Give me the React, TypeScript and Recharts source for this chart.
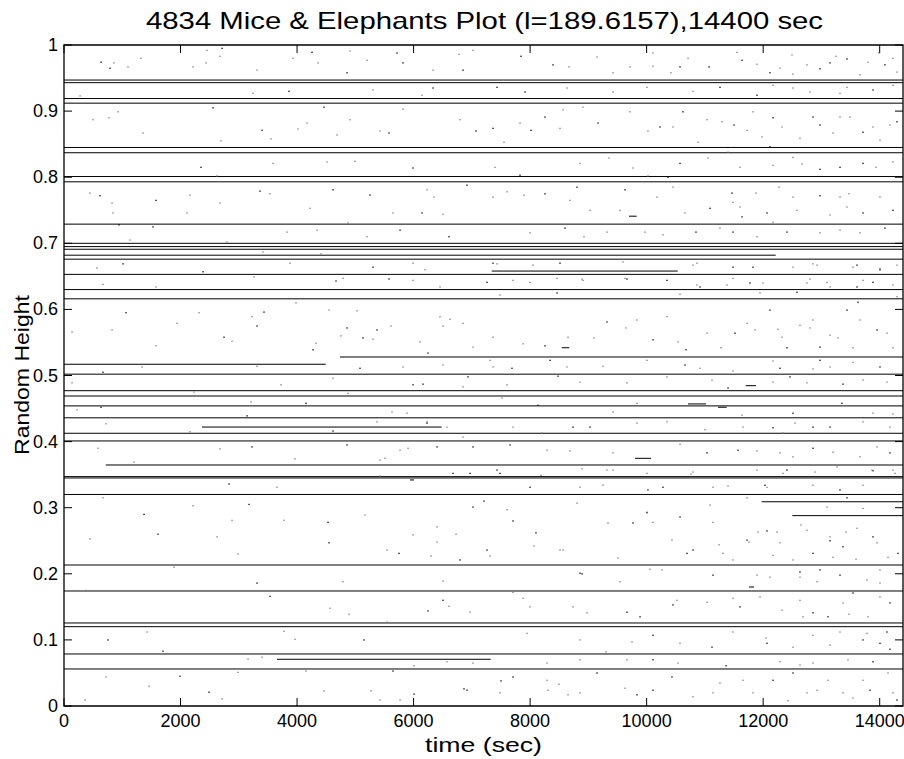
import React from 'react';
import { ScatterChart, Scatter, XAxis, YAxis, ReferenceLine, ReferenceArea } from 'recharts';

const xTicks = [0, 2000, 4000, 6000, 8000, 10000, 12000, 14000];
const yTicks = [0, 0.1, 0.2, 0.3, 0.4, 0.5, 0.6, 0.7, 0.8, 0.9, 1];

// elephants: [start sec, end sec, height]
const elephants = [
  [0, 14400, 0.947], [0, 14400, 0.943], [0, 14400, 0.919], [0, 14400, 0.912],
  [0, 14400, 0.845], [0, 14400, 0.837], [0, 14400, 0.801], [0, 14400, 0.793],
  [0, 14400, 0.729], [0, 14400, 0.7], [0, 14400, 0.695], [0, 14400, 0.691],
  [0, 12215, 0.682], [0, 14400, 0.676], [7341, 10533, 0.658], [0, 14400, 0.653],
  [0, 14400, 0.63], [0, 14400, 0.616], [4737, 14400, 0.528], [0, 4492, 0.517],
  [0, 14400, 0.502], [0, 14400, 0.477], [0, 14400, 0.469], [0, 14400, 0.454],
  [0, 14400, 0.436], [2368, 6482, 0.422], [0, 14400, 0.4126], [0, 14400, 0.401],
  [716, 14400, 0.3646], [0, 14400, 0.347], [0, 14400, 0.345], [0, 14400, 0.32],
  [11975, 14400, 0.309], [12500, 14400, 0.288], [0, 14400, 0.2133], [0, 14400, 0.174],
  [0, 14400, 0.1256], [0, 14400, 0.12], [0, 14400, 0.0787], [3656, 7324, 0.0707],
  [0, 14400, 0.056],
  [9697, 9829, 0.741], [8543, 8673, 0.542], [11700, 11877, 0.4846], [10710, 11019, 0.457],
  [11225, 11374, 0.452], [9800, 10075, 0.3747], [11757, 11843, 0.18], [5938, 6007, 0.342],
];

// mice: [sec, height]
const mice = [
  [635, 0.974], [858, 0.973], [1321, 0.98], [789, 0.965], [1098, 0.967], [3312, 0.962], [2712, 0.995], [2677, 0.983],
  [2437, 0.973], [4256, 0.989], [4359, 0.973], [5200, 0.977], [5818, 0.973], [6333, 0.962], [6779, 0.986], [6848, 0.962],
  [6144, 0.924], [3244, 0.927], [3861, 0.93], [927, 0.899], [772, 0.89], [4462, 0.906], [5818, 0.903], [4170, 0.882],
  [3398, 0.871], [3552, 0.858], [5423, 0.87], [5578, 0.867], [4016, 0.873], [4685, 0.864], [7071, 0.87], [2694, 0.855],
  [1356, 0.867], [618, 0.772], [446, 0.776], [824, 0.761], [1579, 0.765], [2162, 0.773], [2677, 0.761], [3364, 0.779],
  [3535, 0.775], [4222, 0.753], [5251, 0.773], [6350, 0.77], [6504, 0.744], [6144, 0.746], [4874, 0.731], [2626, 0.802],
  [2351, 0.815], [4513, 0.823], [4994, 0.824], [5990, 0.814], [3587, 0.821], [1133, 0.705], [944, 0.728], [3415, 0.687],
  [4410, 0.684], [1012, 0.669], [566, 0.663], [6196, 0.66], [5303, 0.664], [3827, 0.717], [5200, 0.71], [6607, 0.71],
  [1579, 0.634], [669, 0.638], [4668, 0.643], [6453, 0.634], [3261, 0.649], [5578, 0.646],
  [2454, 0.992], [4909, 0.991], [5715, 0.988], [7019, 0.992], [3930, 0.98], [4857, 0.958], [2214, 0.967], [5303, 0.932],
  [6333, 0.935], [275, 0.923], [6796, 0.887], [2557, 0.905], [498, 0.887], [4909, 0.887], [6916, 0.788], [6230, 0.781],
  [5646, 0.746], [4616, 0.781], [2111, 0.746], [841, 0.746], [5767, 0.72], [4342, 0.72], [2797, 0.702], [1527, 0.725],
  [3879, 0.67], [5990, 0.67], [2386, 0.657], [4788, 0.647], [5990, 0.644],
  [7843, 0.983], [9422, 0.958], [11550, 0.989], [11636, 0.977], [11893, 0.971], [13249, 0.983], [13438, 0.979], [14227, 0.98],
  [13987, 0.988], [12975, 0.964], [12494, 0.985], [10710, 0.98], [11070, 0.967], [8667, 0.967], [13798, 0.974], [14089, 0.97],
  [10417, 0.958], [10108, 0.968], [12116, 0.958], [12511, 0.956], [9147, 0.982], [7912, 0.929], [9422, 0.929], [10795, 0.93],
  [11893, 0.924], [12511, 0.935], [13318, 0.927], [13884, 0.932], [14227, 0.939], [12803, 0.929], [8015, 0.871], [7826, 0.882],
  [7551, 0.853], [8255, 0.891], [8512, 0.874], [8907, 0.906], [9165, 0.882], [10022, 0.87], [10451, 0.876], [10623, 0.899],
  [10881, 0.853], [11293, 0.884], [11499, 0.879], [11722, 0.871], [11979, 0.861], [12168, 0.89], [12322, 0.876], [12631, 0.859],
  [12975, 0.879], [13198, 0.867], [13490, 0.891], [13713, 0.868], [14004, 0.856], [14175, 0.879], [12116, 0.846], [11396, 0.838],
  [7397, 0.815], [7826, 0.803], [9353, 0.829], [10022, 0.802], [10366, 0.8], [11053, 0.829], [12666, 0.82], [12975, 0.812],
  [13936, 0.815], [12511, 0.83], [13713, 0.821], [7603, 0.778], [7895, 0.773], [8255, 0.775], [8684, 0.765], [9027, 0.75],
  [9628, 0.781], [10451, 0.785], [10658, 0.746], [11465, 0.776], [11602, 0.755], [11876, 0.776], [12065, 0.746], [12271, 0.785],
  [12511, 0.77], [12975, 0.772], [13318, 0.77], [13472, 0.775], [13713, 0.746], [14004, 0.77], [13147, 0.743], [11636, 0.74],
  [11482, 0.762], [12168, 0.732], [8598, 0.723], [9319, 0.717], [9971, 0.717], [10846, 0.717], [11258, 0.723], [11893, 0.71],
  [12408, 0.717], [12975, 0.716], [13661, 0.716], [14089, 0.723], [8924, 0.71], [7431, 0.669], [8512, 0.67], [9594, 0.672],
  [10863, 0.67], [11825, 0.664], [12854, 0.669], [13541, 0.664], [14004, 0.66], [8461, 0.647], [9628, 0.647], [10915, 0.634],
  [11996, 0.64], [12803, 0.646], [13884, 0.641], [8890, 0.646], [13147, 0.634],
  [8392, 0.97], [9714, 0.967], [10108, 0.988], [10572, 0.967], [12288, 0.965], [12751, 0.97], [13147, 0.973], [13661, 0.955],
  [14296, 0.959], [7431, 0.936], [8633, 0.935], [10005, 0.936], [11258, 0.936], [12168, 0.939], [13438, 0.936], [7362, 0.874],
  [8564, 0.902], [9714, 0.899], [10229, 0.876], [11036, 0.887], [11825, 0.899], [12854, 0.891], [13318, 0.891], [13884, 0.876],
  [14296, 0.884], [8856, 0.821], [9765, 0.814], [10572, 0.821], [11602, 0.815], [12168, 0.818], [13318, 0.815], [14227, 0.823],
  [7362, 0.77], [8804, 0.785], [9542, 0.75], [10177, 0.77], [11087, 0.753], [12580, 0.75], [13438, 0.755], [14227, 0.75],
  [7998, 0.716], [10280, 0.713], [11482, 0.717], [13318, 0.72], [7706, 0.644], [10349, 0.644], [11482, 0.647], [13713, 0.644],
  [1064, 0.595], [1579, 0.545], [2317, 0.595], [3432, 0.596], [4548, 0.599], [5028, 0.598], [5371, 0.569], [5612, 0.575],
  [4754, 0.56], [6247, 0.534], [7019, 0.543], [6453, 0.589], [5131, 0.557], [3981, 0.61], [2883, 0.552], [3312, 0.575],
  [137, 0.566], [824, 0.569], [2746, 0.558], [4325, 0.549], [6848, 0.579], [669, 0.505], [1339, 0.513], [3312, 0.514],
  [6161, 0.487], [3724, 0.486], [137, 0.489], [6933, 0.498], [2231, 0.475], [4874, 0.473], [635, 0.452], [223, 0.448],
  [3209, 0.46], [4153, 0.458], [5629, 0.445], [5887, 0.443], [3141, 0.439], [721, 0.427], [2162, 0.415], [4616, 0.416],
  [6230, 0.43], [6848, 0.407], [3226, 0.392], [3964, 0.374], [1201, 0.369], [4857, 0.395], [5509, 0.375], [5904, 0.39],
  [7019, 0.392], [583, 0.39], [2677, 0.389], [2832, 0.336], [5423, 0.348], [3655, 0.331], [6676, 0.352],
  [6625, 0.585], [6110, 0.551], [4857, 0.572], [5303, 0.555], [6504, 0.575], [4273, 0.539], [1939, 0.579], [3226, 0.589],
  [5080, 0.511], [5818, 0.513], [6504, 0.516], [5990, 0.486], [6848, 0.483], [4616, 0.496], [6230, 0.428], [6573, 0.422],
  [5371, 0.43], [6402, 0.392], [5767, 0.387], [5423, 0.372], [6968, 0.352],
  [7362, 0.558], [7877, 0.548], [8255, 0.545], [8650, 0.558], [9096, 0.557], [9319, 0.581], [9645, 0.572], [9834, 0.584],
  [10108, 0.554], [10349, 0.589], [10538, 0.551], [10675, 0.539], [11036, 0.564], [11276, 0.542], [11516, 0.564], [11722, 0.579],
  [11859, 0.569], [12116, 0.599], [12254, 0.57], [12322, 0.558], [12408, 0.542], [12631, 0.576], [12803, 0.572], [12975, 0.543],
  [13147, 0.561], [13284, 0.557], [13438, 0.599], [13541, 0.542], [13661, 0.584], [13953, 0.569], [14124, 0.564], [14227, 0.542],
  [13627, 0.611], [12854, 0.584], [7362, 0.513], [7688, 0.511], [8632, 0.513], [9250, 0.514], [10658, 0.516], [10915, 0.511],
  [11482, 0.507], [12288, 0.511], [12854, 0.51], [13147, 0.513], [14004, 0.513], [13541, 0.52], [7603, 0.486], [8478, 0.499],
  [9662, 0.489], [11121, 0.493], [11396, 0.481], [12168, 0.49], [12751, 0.489], [13370, 0.487], [14124, 0.49], [7517, 0.466],
  [8135, 0.455], [9834, 0.458], [11636, 0.44], [13352, 0.458], [13884, 0.443], [14227, 0.442], [12511, 0.443], [9422, 0.445],
  [8203, 0.413], [8735, 0.422], [9834, 0.428], [11001, 0.418], [12168, 0.421], [12339, 0.413], [12545, 0.428], [12854, 0.422],
  [13713, 0.43], [14175, 0.422], [7654, 0.395], [8684, 0.386], [10572, 0.396], [11568, 0.387], [11893, 0.386], [12511, 0.377],
  [12854, 0.39], [13198, 0.384], [13661, 0.377], [14175, 0.383], [8890, 0.359], [11893, 0.357], [13884, 0.356], [13267, 0.362],
  [10005, 0.352], [7998, 0.331], [11138, 0.331], [12854, 0.334],
  [7362, 0.67], [8049, 0.667], [10795, 0.667], [11482, 0.664], [12511, 0.664], [12923, 0.667], [13610, 0.667], [14004, 0.662],
  [14296, 0.667], [7260, 0.641], [7998, 0.641], [8907, 0.644], [9662, 0.646], [10863, 0.637], [11379, 0.637], [11773, 0.64],
  [12751, 0.64], [13095, 0.641], [13610, 0.634], [14227, 0.637], [7483, 0.622], [8461, 0.625], [10572, 0.623], [11945, 0.625],
  [12580, 0.626], [14296, 0.619], [7311, 0.523], [8341, 0.523], [10005, 0.523], [12168, 0.522], [12975, 0.523], [8856, 0.49],
  [10349, 0.498], [12460, 0.498], [13713, 0.493], [7706, 0.422], [9027, 0.422], [10349, 0.43], [11653, 0.422], [13147, 0.422],
  [8290, 0.387], [9422, 0.383], [11036, 0.383], [12288, 0.383], [13953, 0.392], [7431, 0.357], [9422, 0.357], [10795, 0.354],
  [12408, 0.357], [14227, 0.357], [8856, 0.331], [10280, 0.331], [12065, 0.331], [13713, 0.334],
  [3175, 0.305], [3775, 0.281], [2883, 0.281], [1613, 0.26], [446, 0.253], [2626, 0.256], [4548, 0.247], [5990, 0.259],
  [6728, 0.26], [5749, 0.231], [6298, 0.227], [2986, 0.23], [1373, 0.29], [2214, 0.303], [669, 0.315], [4531, 0.278],
  [5166, 0.289], [1888, 0.21], [3312, 0.186], [6504, 0.189], [378, 0.175], [3535, 0.166], [4565, 0.148], [4891, 0.139],
  [6247, 0.144], [6607, 0.151], [1424, 0.112], [1699, 0.083], [3775, 0.113], [3964, 0.101], [5149, 0.1], [3158, 0.071],
  [3398, 0.074], [5646, 0.053], [6007, 0.061], [2986, 0.051], [1991, 0.045], [4153, 0.053], [360, 0.009], [2488, 0.021],
  [4462, 0.023], [5269, 0.023], [6007, 0.018], [1459, 0.03], [721, 0.044], [6865, 0.026], [2712, 0.011], [5767, 0.009],
  [755, 0.1], [6968, 0.142], [5543, 0.127],
  [7019, 0.301], [6402, 0.271], [5543, 0.236], [6796, 0.221], [6402, 0.248], [4788, 0.188], [6504, 0.16], [7019, 0.065],
  [6573, 0.067], [6916, 0.024], [5423, 0.009],
  [9319, 0.357], [8100, 0.262], [9336, 0.277], [10108, 0.278], [10572, 0.286], [11242, 0.244], [11757, 0.248], [12065, 0.265],
  [12237, 0.263], [12649, 0.274], [13147, 0.25], [13421, 0.263], [13593, 0.222], [13884, 0.256], [14142, 0.225], [12288, 0.247],
  [12854, 0.231], [11482, 0.221], [9508, 0.224], [7706, 0.28], [7311, 0.227], [8564, 0.236], [10795, 0.236], [12511, 0.221],
  [13198, 0.225], [8890, 0.2], [10057, 0.207], [7706, 0.172], [10451, 0.153], [11482, 0.163], [13472, 0.139], [13112, 0.135],
  [12322, 0.145], [12683, 0.135], [13541, 0.171], [14004, 0.165], [12116, 0.195], [12631, 0.203], [14004, 0.206], [12923, 0.188],
  [9662, 0.142], [8976, 0.141], [7998, 0.15], [14124, 0.112], [13781, 0.11], [12511, 0.089], [11121, 0.089], [9748, 0.097],
  [9302, 0.082], [14175, 0.086], [13147, 0.092], [12048, 0.103], [13713, 0.1], [9662, 0.07], [10538, 0.065], [11362, 0.061],
  [12631, 0.062], [13455, 0.07], [7500, 0.038], [8495, 0.033], [9628, 0.027], [10434, 0.044], [11138, 0.02], [11653, 0.039],
  [12511, 0.05], [13112, 0.039], [13370, 0.02], [13833, 0.024], [14142, 0.05], [8650, 0.017], [9834, 0.017], [12425, 0.008],
  [12923, 0.024], [9147, 0.05], [11825, 0.02], [13541, 0.012], [7706, 0.044], [14227, 0.02], [8307, 0.024],
  [7483, 0.352], [8186, 0.349], [9250, 0.334], [10022, 0.327], [10761, 0.351], [11396, 0.333], [12031, 0.334], [12340, 0.352],
  [12889, 0.354], [13318, 0.327], [13867, 0.357], [14262, 0.352], [7208, 0.31], [7603, 0.297], [8804, 0.307], [10005, 0.293],
  [11087, 0.304], [11722, 0.315], [13438, 0.315], [13095, 0.301], [13713, 0.299], [7260, 0.236], [8066, 0.242], [8512, 0.236],
  [9765, 0.277], [10005, 0.292], [10434, 0.251], [10692, 0.231], [11138, 0.278], [11310, 0.231], [11722, 0.251], [11911, 0.263],
  [13147, 0.256], [13370, 0.241], [13610, 0.269], [13953, 0.247], [14313, 0.231], [12751, 0.266], [12168, 0.228], [8856, 0.201],
  [9542, 0.188], [10263, 0.206], [11138, 0.198], [11893, 0.198], [12631, 0.195], [13318, 0.198], [13781, 0.191], [14004, 0.186],
  [12975, 0.206], [7878, 0.163], [8736, 0.15], [9886, 0.135], [10520, 0.16], [11036, 0.157], [11602, 0.15], [11945, 0.165],
  [12631, 0.16], [12854, 0.141], [13370, 0.156], [13798, 0.135], [14175, 0.156], [7946, 0.11], [8856, 0.1], [10108, 0.107],
  [10572, 0.095], [11482, 0.112], [12065, 0.095], [12854, 0.107], [13318, 0.112], [14004, 0.095], [8290, 0.065], [8856, 0.07],
  [10108, 0.07], [12288, 0.067], [12854, 0.065], [13884, 0.067], [8290, 0.039], [8856, 0.02], [10108, 0.024], [10795, 0.014],
  [11258, 0.035], [12168, 0.039], [12751, 0.02], [13713, 0.039], [14296, 0.009], [7483, 0.02],
];

const FONT = '"Liberation Sans", Arial, Helvetica, sans-serif';
const TOP = 45;
const BOTTOM = 706;
const LEFT = 64;
const RIGHT = 903;

const miceData = mice.map(([x, y]) => ({ x, y }));

const XTick = (props: any) => {
  const { x, payload } = props;
  return (
    <g>
      <line x1={x} x2={x} y1={BOTTOM} y2={BOTTOM - 8} stroke="#000" />
      <line x1={x} x2={x} y1={TOP} y2={TOP + 8} stroke="#000" />
      <text x={x} y={BOTTOM + 21} textAnchor="middle" fontSize={18} fontFamily={FONT} fill="#000">
        {payload.value}
      </text>
    </g>
  );
};

const YTick = (props: any) => {
  const { y, payload } = props;
  return (
    <g>
      <line x1={LEFT} x2={LEFT + 8} y1={y} y2={y} stroke="#000" />
      <line x1={RIGHT} x2={RIGHT - 8} y1={y} y2={y} stroke="#000" />
      <text x={LEFT - 6} y={y + 6} textAnchor="end" fontSize={18} fontFamily={FONT} fill="#000">
        {payload.value}
      </text>
    </g>
  );
};

const MouseDot = (props: any) => {
  const { cx, cy, index } = props;
  return <rect x={cx - 0.6} y={cy - 0.6} width={1.3} height={1.3} fill={index % 3 === 0 ? '#000' : '#777'} />;
};

export default function App() {
  return (
    <div style={{ position: 'fixed', left: 0, top: 0, width: 904, height: 759, background: '#fff' }}>
      <ScatterChart
        width={904}
        height={759}
        margin={{ top: TOP, right: 904 - RIGHT, bottom: 0, left: 0 }}
        style={{ position: 'absolute', left: 0, top: 0 }}
      >
        <XAxis
          type="number"
          dataKey="x"
          domain={[0, 14400]}
          ticks={xTicks}
          height={759 - BOTTOM}
          axisLine={false}
          tickLine={false}
          tick={<XTick />}
          allowDataOverflow
        />
        <YAxis
          type="number"
          dataKey="y"
          domain={[0, 1]}
          ticks={yTicks}
          width={LEFT}
          axisLine={false}
          tickLine={false}
          tick={<YTick />}
          allowDataOverflow
        />
        {elephants.map(([x1, x2, h], i) => (
          <ReferenceLine
            key={'e' + i}
            segment={[{ x: x1, y: h }, { x: x2, y: h }]}
            stroke="#000"
            strokeWidth={1}
          />
        ))}
        <Scatter data={miceData} shape={<MouseDot />} isAnimationActive={false} />
        <ReferenceArea x1={0} x2={14400} y1={0} y2={1} fill="none" fillOpacity={0} stroke="#000" strokeWidth={1.3} />
      </ScatterChart>
      <svg width={904} height={759} style={{ position: 'absolute', left: 0, top: 0, pointerEvents: 'none' }}>
        <text
          x={484.5} y={29} textAnchor="middle" fontSize={24} fontFamily={FONT} fill="#000"
          textLength={677} lengthAdjust="spacingAndGlyphs"
        >
          4834 Mice &amp; Elephants Plot (l=189.6157),14400 sec
        </text>
        <text
          x={483.5} y={752} textAnchor="middle" fontSize={21} fontFamily={FONT} fill="#000"
          textLength={117} lengthAdjust="spacingAndGlyphs"
        >
          time (sec)
        </text>
        <text
          transform="translate(29,375) rotate(-90)" x={0} y={0} textAnchor="middle" fontSize={21}
          fontFamily={FONT} fill="#000" textLength={160} lengthAdjust="spacingAndGlyphs"
        >
          Random Height
        </text>
      </svg>
    </div>
  );
}
